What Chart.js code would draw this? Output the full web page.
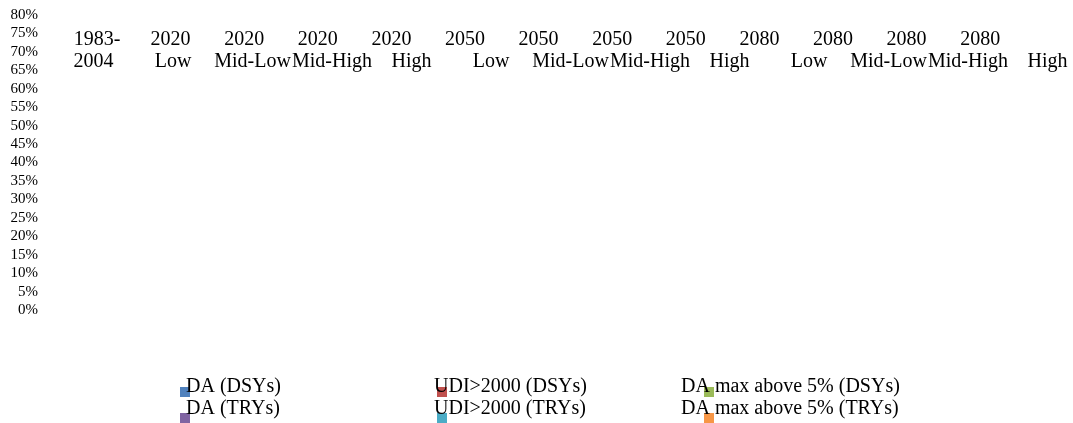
<!DOCTYPE html>
<html>
<head>
<meta charset="utf-8">
<script src="https://cdn.jsdelivr.net/npm/chart.js@4.4.1/dist/chart.umd.min.js"></script>
<style>
  html, body { margin: 0; padding: 0; background: #fff; }
  #wrap { width: 1073px; height: 423px; position: relative; }
</style>
</head>
<body>
<div id="wrap"><canvas id="chart"></canvas></div>
<script>
// category labels, as two rows of text (the source wraps them unevenly)
const years = ['1983-', '2020', '2020', '2020', '2020', '2050', '2050', '2050', '2050', '2080', '2080', '2080', '2080'];
const scenarios = ['2004', 'Low', 'Mid-Low', 'Mid-High', 'High', 'Low', 'Mid-Low', 'Mid-High', 'High', 'Low', 'Mid-Low', 'Mid-High', 'High'];
const categories = years.map((y, i) => y + ' ' + scenarios[i]);

// no bars are drawn in the picture, so every series is empty
const daDSY = [null, null, null, null, null, null, null, null, null, null, null, null, null];
const daTRY = [null, null, null, null, null, null, null, null, null, null, null, null, null];
const udiDSY = [null, null, null, null, null, null, null, null, null, null, null, null, null];
const udiTRY = [null, null, null, null, null, null, null, null, null, null, null, null, null];
const daMaxDSY = [null, null, null, null, null, null, null, null, null, null, null, null, null];
const daMaxTRY = [null, null, null, null, null, null, null, null, null, null, null, null, null];

const yMin = 0;
const yMax = 0.8;
const yStep = 0.05;

const FONT = '"Liberation Serif", "Times New Roman", serif';

// chart area is pinned so the two label rows can be placed on it
const AREA_LEFT = 41;
const AREA_RIGHT = 1068;
const span = (first, step) => ({
  min: -(first - AREA_LEFT) / step,
  max: (AREA_RIGHT - first) / step,
});
const yearSpan = span(97, 73.6);
const scenSpan = span(93.5, 79.5);

const labelAxis = (labels, range, at) => ({
  type: 'linear',
  position: { y: at },
  bounds: 'data',
  offset: false,
  min: range.min,
  max: range.max,
  afterBuildTicks: (s) => { s.ticks = labels.map((_, i) => ({ value: i })); },
  // labels may overhang; don't let them shrink the chart area
  afterFit: (s) => { s.paddingLeft = 0; s.paddingRight = 0; },
  grid: { display: false, drawTicks: false, offset: false },
  border: { display: false },
  ticks: {
    autoSkip: false,
    maxRotation: 0,
    minRotation: 0,
    padding: 0,
    color: '#000',
    font: { family: FONT, size: 20 },
    callback: (v) => labels[v] ?? '',
  },
});

const legendBox = {
  markX: [180, 437, 704],
  markY: [387, 413],
  textX: [186, 434, 681],
  textY: [387, 409],
};

const gridLegend = {
  id: 'gridLegend',
  afterDraw(chart) {
    const { ctx } = chart;
    ctx.save();
    ctx.font = '20px ' + FONT;
    ctx.textBaseline = 'middle';
    ctx.textAlign = 'left';
    chart.data.datasets.forEach((ds, k) => {
      const col = Math.floor(k / 2);
      const row = k % 2;
      ctx.fillStyle = ds.backgroundColor;
      ctx.fillRect(legendBox.markX[col], legendBox.markY[row], 10, 10);
      ctx.fillStyle = '#000';
      ctx.fillText(ds.label, legendBox.textX[col], legendBox.textY[row]);
    });
    ctx.restore();
  },
};

new Chart(document.getElementById('chart').getContext('2d'), {
  type: 'bar',
  data: {
    labels: categories,
    datasets: [
      { label: 'DA (DSYs)', data: daDSY, backgroundColor: '#4F81BD' },
      { label: 'DA (TRYs)', data: daTRY, backgroundColor: '#8064A2' },
      { label: 'UDI>2000 (DSYs)', data: udiDSY, backgroundColor: '#C0504D' },
      { label: 'UDI>2000 (TRYs)', data: udiTRY, backgroundColor: '#4BACC6' },
      { label: 'DA max above 5% (DSYs)', data: daMaxDSY, backgroundColor: '#9BBB59' },
      { label: 'DA max above 5% (TRYs)', data: daMaxTRY, backgroundColor: '#F79646' },
    ],
  },
  options: {
    responsive: true,
    maintainAspectRatio: false,
    animation: false,
    layout: { padding: { left: 0, right: 1073 - AREA_RIGHT, top: 15, bottom: 113 } },
    plugins: {
      legend: { display: false },
      tooltip: { enabled: false },
    },
    scales: {
      x: { display: false },
      y: {
        min: yMin,
        max: yMax,
        afterFit: (s) => { s.width = AREA_LEFT; },
        grid: { display: false, drawTicks: false },
        border: { display: false },
        ticks: {
          stepSize: yStep,
          autoSkip: false,
          padding: 3,
          color: '#000',
          font: { family: FONT, size: 15 },
          callback: (v) => Math.round(v * 100) + '%',
        },
      },
      xYear: labelAxis(years, yearSpan, 0.765),
      xScen: labelAxis(scenarios, scenSpan, 0.706),
    },
  },
  plugins: [gridLegend],
});
</script>
</body>
</html>
